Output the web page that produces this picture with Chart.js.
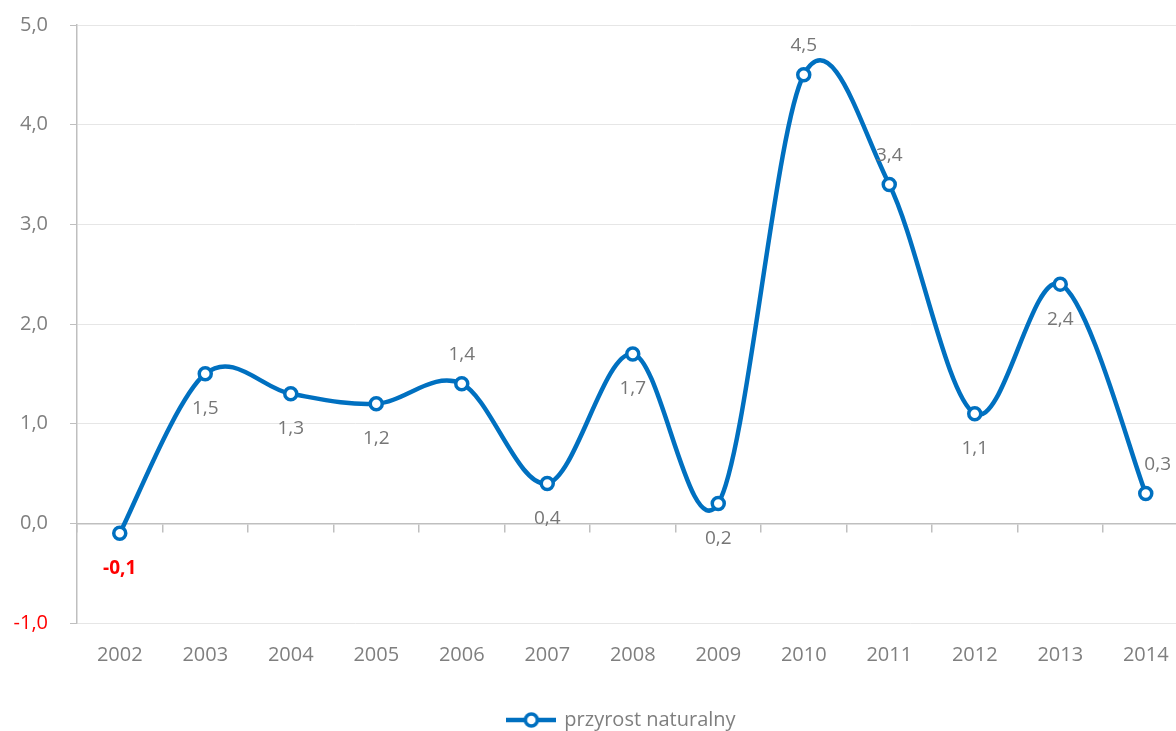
<!DOCTYPE html>
<html>
<head>
<meta charset="utf-8">
<script src="https://cdn.jsdelivr.net/npm/chart.js@4/dist/chart.umd.min.js"></script>
<style>
  html, body { margin: 0; padding: 0; background: #fff; overflow: hidden; }
  #wrap { width: 1198px; height: 731px; }
</style>
</head>
<body>
<div id="wrap"><canvas id="wykres"></canvas></div>
<script>
// dane: przyrost naturalny 2002-2014
const lata = ["2002", "2003", "2004", "2005", "2006", "2007", "2008", "2009", "2010", "2011", "2012", "2013", "2014"];
const przyrost = [-0.1, 1.5, 1.3, 1.2, 1.4, 0.4, 1.7, 0.2, 4.5, 3.4, 1.1, 2.4, 0.3];
const osY = [-1, 0, 1, 2, 3, 4, 5];

const NIEBIESKI = "#0070c0";
const SZARY = "#7f7f7f";
const CZERWONY = "#ff0000";
const WIDOK = 1176; // szerokość okna (wykres jest szerszy i przycięty z prawej)

const fmt = v => v.toFixed(1).replace(".", ",");

// znacznik legendy: linia z kółkiem
const znacznik = document.createElement("canvas");
znacznik.width = 50;
znacznik.height = 20;
const zc = znacznik.getContext("2d");
zc.strokeStyle = NIEBIESKI;
zc.lineWidth = 4.5;
zc.beginPath(); zc.moveTo(0, 10); zc.lineTo(50, 10); zc.stroke();
zc.beginPath(); zc.arc(25, 10, 6, 0, Math.PI * 2);
zc.fillStyle = "#fff"; zc.fill();
zc.lineWidth = 3.5; zc.stroke();

// wygładzanie jak w Excelu (Catmull-Rom), liczone z pozycji punktów
const wygladzanie = {
  id: "wygladzanie",
  beforeDatasetDraw(chart, args) {
    const meta = args.meta;
    meta.dataset.updateControlPoints(chart.chartArea, meta.indexAxis);
    const pts = meta.data;
    const n = pts.length;
    pts.forEach((p, i) => {
      const prev = pts[Math.max(i - 1, 0)];
      const next = pts[Math.min(i + 1, n - 1)];
      const dx = (next.x - prev.x) / 6;
      const dy = (next.y - prev.y) / 6;
      p.cp1x = p.x - dx; p.cp1y = p.y - dy;
      p.cp2x = p.x + dx; p.cp2y = p.y + dy;
    });
  }
};

// etykiety wartości przy punktach
const etykiety = {
  id: "etykiety",
  afterDatasetsDraw(chart) {
    const ctx = chart.ctx;
    const meta = chart.getDatasetMeta(0);
    const nad = [4, 8, 9, 12]; // indeksy z etykietą nad punktem
    const ostatni = meta.data.length - 1;
    ctx.save();
    ctx.textAlign = "center";
    ctx.textBaseline = "middle";
    meta.data.forEach((pt, i) => {
      const v = przyrost[i];
      const txt = fmt(v);
      ctx.font = (v < 0 ? "bold " : "") + '19px "Open Sans"';
      ctx.fillStyle = v < 0 ? CZERWONY : "#767676";
      const w = ctx.measureText(txt).width;
      let x = i === ostatni ? pt.x + 12 : pt.x;
      if (x + w / 2 > WIDOK - 5) x = WIDOK - 5 - w / 2;
      const y = nad.includes(i) ? pt.y - 29 : pt.y + 35;
      ctx.fillText(txt, x, y);
    });
    ctx.restore();
  }
};

// przesunięcie legendy (jak w oryginale)
const legendaPrzesun = {
  id: "legendaPrzesun",
  afterLayout(chart) {
    const l = chart.legend;
    const dx = 622 - (l.left + l.right) / 2;
    l.left += dx; l.right += dx;
    l.top += 9; l.bottom += 9;
  }
};

Chart.defaults.font.family = '"Open Sans", sans-serif';
Chart.defaults.color = SZARY;

window.onload = function() {
  const ctx = document.getElementById("wykres").getContext("2d");

  new Chart(ctx, {
    type: "line",
    data: {
      labels: lata,
      datasets: [
        {
          label: "przyrost naturalny",
          data: przyrost,
          xAxisID: "x",
          yAxisID: "y",
          borderColor: NIEBIESKI,
          borderWidth: 4.5,
          tension: 0.4,
          pointRadius: 6,
          pointBorderWidth: 3.5,
          pointBackgroundColor: "#fff",
          pointBorderColor: NIEBIESKI,
          clip: false
        }
      ]
    },
    options: {
      responsive: true,
      maintainAspectRatio: false,
      animation: false,
      layout: { padding: { top: 25, left: 12, right: 2, bottom: 0 } },
      plugins: {
        tooltip: { enabled: false },
        legend: {
          position: "bottom",
          labels: {
            usePointStyle: true,
            pointStyle: znacznik,
            pointStyleWidth: 46,
            color: SZARY,
            font: { size: 20 },
            padding: 12
          }
        }
      },
      scales: {
        x: {
          type: "category",
          offset: true,
          grid: { display: false, drawTicks: false },
          border: { display: false },
          ticks: { color: SZARY, font: { size: 20 }, padding: 20 },
          afterFit: s => { s.height = 66; }
        },
        x0: {
          type: "category",
          labels: lata,
          offset: true,
          position: { y: 0 },
          grid: { drawOnChartArea: false, drawTicks: true, tickLength: 8, offset: true, color: "#bfbfbf", lineWidth: 1.5 },
          border: { color: "#bfbfbf", width: 1.5 },
          ticks: { display: false }
        },
        y: {
          min: osY[0],
          max: osY[osY.length - 1],
          afterBuildTicks: axis => { axis.ticks = osY.map(v => ({ value: v })); },
          afterFit: s => { s.width = 65; s.paddingTop = 0; s.paddingBottom = 0; },
          grid: { color: "#e6e6e6", lineWidth: 1, tickLength: 7, tickColor: "#bfbfbf" },
          border: { color: "#bfbfbf", width: 1.5 },
          ticks: {
            padding: 22,
            font: { size: 20 },
            color: c => (c.tick.value < 0 ? CZERWONY : SZARY),
            callback: v => fmt(v)
          }
        }
      }
    },
    plugins: [wygladzanie, etykiety, legendaPrzesun]
  });
};
</script>
</body>
</html>
